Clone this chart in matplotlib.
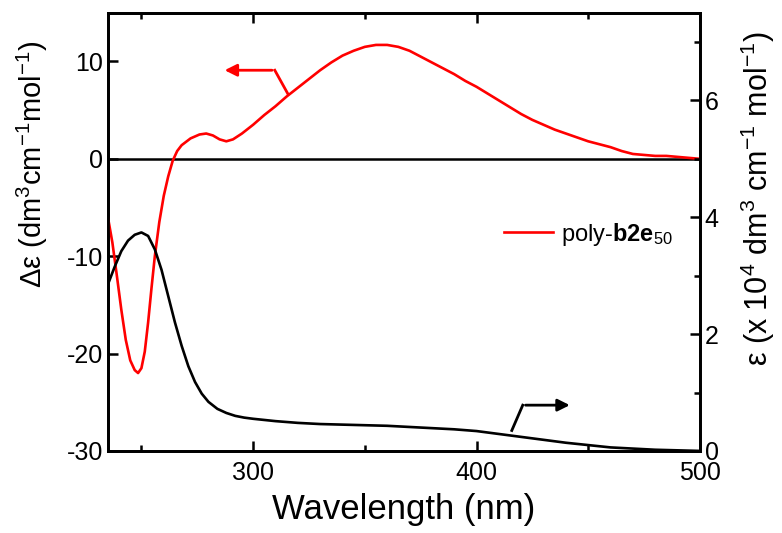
import matplotlib
matplotlib.use('Agg')
import matplotlib.pyplot as plt

plt.rcParams['font.family'] = ['Liberation Sans', 'DejaVu Sans']
plt.rcParams['mathtext.fontset'] = 'custom'
plt.rcParams['mathtext.rm'] = 'Liberation Sans'
plt.rcParams['mathtext.bf'] = 'Liberation Sans:bold'
plt.rcParams['mathtext.it'] = 'Liberation Sans:italic'
plt.rcParams['axes.unicode_minus'] = False

# CD spectrum (left axis, dm3 cm-1 mol-1)
cd_wl = [235, 237, 239, 241, 243, 245, 247, 248.5, 250, 251.5, 253, 254.5, 256,
         258, 260, 262, 264, 266, 268, 272, 276, 279, 282, 285, 288, 291, 295,
         300, 305, 310, 315, 320, 325, 330, 335, 340, 345, 350, 355, 360, 365,
         370, 375, 380, 385, 390, 395, 400, 405, 410, 415, 420, 425, 430, 435,
         440, 445, 450, 455, 460, 465, 470, 475, 480, 485, 490, 495, 500]
cd_val = [-6.0, -8.6, -12.0, -15.5, -18.6, -20.7, -21.7, -22.0, -21.5, -19.8,
          -16.8, -13.3, -10.0, -6.5, -3.8, -1.8, -0.2, 0.8, 1.4, 2.1, 2.5, 2.6,
          2.4, 2.0, 1.8, 2.0, 2.6, 3.5, 4.5, 5.4, 6.4, 7.3, 8.2, 9.1, 9.9, 10.6,
          11.1, 11.5, 11.7, 11.7, 11.5, 11.1, 10.5, 9.9, 9.3, 8.7, 8.0, 7.4,
          6.7, 6.0, 5.3, 4.6, 4.0, 3.5, 3.0, 2.6, 2.2, 1.8, 1.5, 1.2, 0.8, 0.5,
          0.4, 0.3, 0.3, 0.2, 0.1, 0.0]

# UV absorption (right axis, x 10^4 dm3 cm-1 mol-1)
uv_wl = [235, 238, 241, 244, 247, 250, 253, 256, 259, 262, 265, 268, 271, 274,
         277, 280, 284, 288, 292, 296, 300, 310, 320, 330, 340, 350, 360, 370,
         380, 390, 400, 410, 420, 430, 440, 450, 460, 470, 480, 490, 500]
uv_val = [2.85, 3.15, 3.42, 3.6, 3.7, 3.74, 3.68, 3.45, 3.1, 2.65, 2.2, 1.8,
          1.45, 1.18, 0.98, 0.84, 0.72, 0.65, 0.6, 0.57, 0.55, 0.51, 0.48, 0.46,
          0.45, 0.44, 0.43, 0.41, 0.39, 0.37, 0.34, 0.29, 0.24, 0.19, 0.14, 0.1,
          0.06, 0.04, 0.02, 0.01, 0.0]

fig = plt.figure(figsize=(7.82, 5.33), dpi=100)
ax = fig.add_axes([0.138, 0.154, 0.757, 0.822])
ax2 = ax.twinx()

ax.axhline(0, color='black', lw=1.8, zorder=1)
line_cd, = ax.plot(cd_wl, cd_val, color='#ff0000', lw=1.9, zorder=3)
ax2.plot(uv_wl, uv_val, color='black', lw=1.9)

ax.set_xlim(235, 500)
ax.set_ylim(-30, 15)
ax2.set_ylim(0, 7.5)

ax.set_xticks([300, 400, 500])
ax.set_xticks([250, 350, 450], minor=True)
ax.set_yticks([-30, -20, -10, 0, 10])
ax2.set_yticks([0, 2, 4, 6])
ax2.set_yticks([1, 3, 5, 7], minor=True)

for a in (ax, ax2):
    for s in a.spines.values():
        s.set_linewidth(2.0)
ax.tick_params(axis='both', which='both', direction='in', labelsize=18, width=1.8)
ax.tick_params(axis='x', which='both', top=True)
ax.tick_params(which='major', length=7)
ax.tick_params(which='minor', length=4)
ax2.tick_params(axis='y', which='both', direction='in', labelsize=18, width=1.8)
ax2.tick_params(which='major', length=7)
ax2.tick_params(which='minor', length=4)
ax.tick_params(axis='x', pad=7)

ax.set_xlabel('Wavelength (nm)', fontsize=25, labelpad=6)
ax.set_ylabel('Δε (dm$^3$cm$^{-1}$mol$^{-1}$)', fontsize=21)
ax.yaxis.set_label_coords(-0.098, 0.655)
ax2.set_ylabel('ε (x 10$^4$ dm$^3$ cm$^{-1}$ mol$^{-1}$)', fontsize=22,
               rotation=90)
ax2.yaxis.set_label_coords(1.066, 0.575)

ax.legend([line_cd], ['poly-$\\mathbf{b2e}_{\\mathrm{50}}$'], frameon=False,
          loc='center left', bbox_to_anchor=(0.633, 0.495), fontsize=17,
          handlelength=2.1, handletextpad=0.3)

# arrows pointing to the relevant axes
ax.annotate('', xy=(286, 9.1), xytext=(309.7, 9.1),
            arrowprops=dict(arrowstyle='-|>', color='#ff0000', lw=2,
                            mutation_scale=18))
ax.plot([309.7, 315.5], [9.1, 6.7], color='#ff0000', lw=2)
ax.annotate('', xy=(443, -25.3), xytext=(420.7, -25.3),
            arrowprops=dict(arrowstyle='-|>', color='black', lw=2,
                            mutation_scale=18))
ax.plot([415.8, 420.7], [-27.9, -25.3], color='black', lw=2)

fig.savefig('out.png', dpi=100)
